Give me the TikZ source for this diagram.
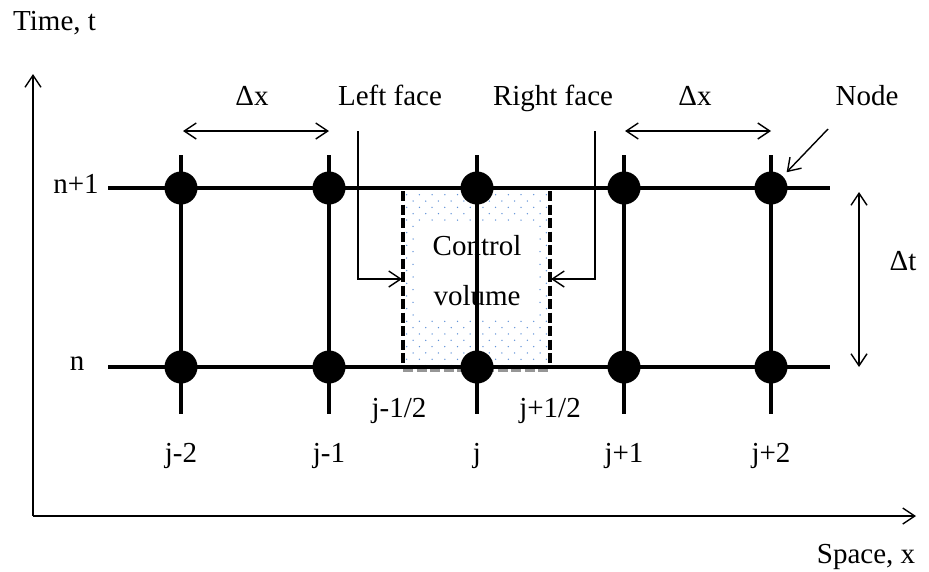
\documentclass[tikz,border=0pt]{standalone}
\usepackage{fontspec}
\setmainfont{Liberation Serif}
\usetikzlibrary{arrows.meta}
\definecolor{dotblue}{RGB}{95,145,215}
\definecolor{edgegray}{RGB}{150,150,150}
\begin{document}
\begin{tikzpicture}[x=1pt,y=-1pt,
  lbl/.style={font=\fontsize{29}{35}\selectfont, inner sep=0pt, anchor=base},
  gridline/.style={line width=4.6pt},
  gridnode/.style={circle, fill=black, minimum size=33pt, inner sep=0pt},
  cvside/.style={line width=4pt, dash pattern=on 10pt off 3.5pt},
  thinarrow/.style={line width=1.4pt, -{Straight Barb[length=12pt,width=16pt,line width=1.4pt]}},
  dimarrow/.style={line width=1.4pt, {Straight Barb[length=12pt,width=16pt,line width=1.4pt]}-{Straight Barb[length=12pt,width=16pt,line width=1.4pt]}}
]
\useasboundingbox (0,0) rectangle (929,571);

% dotted shading of the control volume (staggered lattice)
\begin{scope}
  \clip (404,190) rectangle (549,366);
  \foreach \r in {0,...,28}{
    \foreach \c in {0,...,11}{
      \fill[dotblue] ({406.7+\c*12.7+mod(\r,2)*6.35},{194.7+\r*6.33}) circle (0.75pt);
    }
  }
  % clear band behind the label
  \fill[white] (416,223) rectangle (537,318);
\end{scope}
\draw[edgegray, line width=3pt, dash pattern=on 10pt off 3.5pt] (403,370.5) -- (550,370.5);

% texts inside the control volume (grid line runs over them)
\node[lbl] (cv1) at (477,255) {Control};
\node[lbl] (cv2) at (477,305) {volume};

% grid end points
\foreach \c/\x in {1/181,2/329,3/477,4/624,5/771}{
  \coordinate (top\c) at (\x,155);
  \coordinate (bot\c) at (\x,414);
}
\coordinate (rowAl) at (108,188);
\coordinate (rowAr) at (830,188);
\coordinate (rowBl) at (108,367);
\coordinate (rowBr) at (830,367);

% grid lines
\draw[gridline] (rowAl) -- (rowAr);
\draw[gridline] (rowBl) -- (rowBr);
\foreach \c in {1,...,5}{
  \draw[gridline] (top\c) -- (bot\c);
}

% control volume faces
\coordinate (cvLt) at (403,191);
\coordinate (cvLb) at (403,367);
\coordinate (cvRt) at (550,191);
\coordinate (cvRb) at (550,367);
\draw[cvside] (cvLt) -- (cvLb);
\draw[cvside] (cvRt) -- (cvRb);

% grid nodes
\foreach \c/\x in {1/181,2/329,3/477,4/624,5/771}{
  \node[gridnode] (up\c) at (\x,188) {};
  \node[gridnode] (lo\c) at (\x,367) {};
}

% axes
\coordinate (origin) at (33,516);
\coordinate (tEnd) at (33,74);
\coordinate (xEnd) at (916,516);
\draw[thinarrow] (origin) -- (tEnd);
\draw[thinarrow] (origin) -- (xEnd);
\node[lbl, anchor=base west] (tlab) at (13,30) {Time, t};
\node[lbl] (xlab) at (866,563) {Space, x};

% row and column labels
\node[lbl] (rowA) at (76,193) {n+1};
\node[lbl] (rowB) at (77,370) {n};
\node[lbl] (c1) at (181,462) {j-2};
\node[lbl] (c2) at (329,462) {j-1};
\node[lbl] (c3) at (477,462) {j};
\node[lbl] (c4) at (624,462) {j+1};
\node[lbl] (c5) at (771,462) {j+2};
\node[lbl] (hL) at (399,417) {j-1/2};
\node[lbl] (hR) at (550,417) {j+1/2};

% spacing dimensions
\coordinate (dxAl) at (183,131);
\coordinate (dxAr) at (329,131);
\coordinate (dxBl) at (625,131);
\coordinate (dxBr) at (771,131);
\draw[dimarrow] (dxAl) -- (dxAr);
\draw[dimarrow] (dxBl) -- (dxBr);
\node[lbl] (dxA) at (252,105) {Δx};
\node[lbl] (dxB) at (695,105) {Δx};
\coordinate (dtT) at (859,192);
\coordinate (dtB) at (859,367);
\draw[dimarrow] (dtT) -- (dtB);
\node[lbl] (dt) at (903,270) {Δt};

% face and node callouts
\node[lbl] (lf) at (390,105) {Left face};
\node[lbl] (rf) at (553,105) {Right face};
\node[lbl] (nd) at (867,105) {Node};
\coordinate (lfTop) at (358,131);
\coordinate (lfBend) at (358,279);
\coordinate (lfTip) at (402,279);
\coordinate (rfTop) at (595,131);
\coordinate (rfBend) at (595,279);
\coordinate (rfTip) at (551,279);
\draw[thinarrow] (lfTop) -- (lfBend) -- (lfTip);
\draw[thinarrow] (rfTop) -- (rfBend) -- (rfTip);
\coordinate (ndStart) at (828,129);
\draw[thinarrow, shorten >=5.5pt] (ndStart) -- (up5.45);
\end{tikzpicture}
\end{document}
